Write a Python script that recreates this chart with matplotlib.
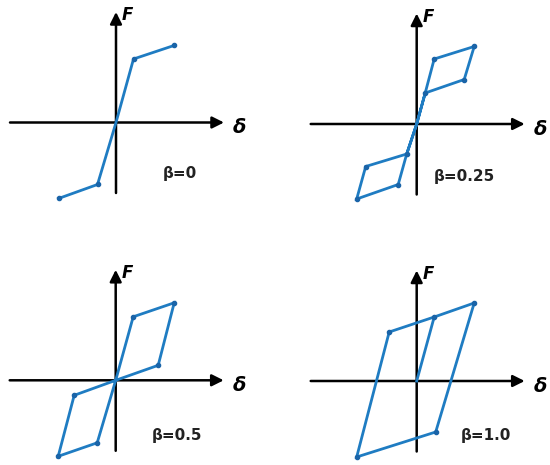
import matplotlib.pyplot as plt
import numpy as np

# loop vertices for each beta (displacement, force), origin at axes crossing
labels = ["β=0", "β=0.25", "β=0.5", "β=1.0"]
d0 = [-57.5, -18.5, 0, 17.5, 58]
f0 = [-76, -62, 0, 63.5, 77]
d25 = [0, 8.5, 17.5, 57.5, 47.5, 8.5, 0, -10, -18.5, -60, -51, -10, 0]
f25 = [0, 31, 65, 77.5, 44.5, 31, 0, -30, -60.5, -75, -42.5, -30, 0]
d50 = [0, 17.5, 58.5, 42.5, 0, -41.5, -57.5, -18.5, 0]
f50 = [0, 63.5, 77.5, 15, 0, -15, -76, -62.5, 0]
d100 = [0, 17.5, 57.5, 19, -60, -27.5, 17.5]
f100 = [0, 64, 78, -51, -76, 49, 64]
data = [(d0, f0), (d25, f25), (d50, f50), (d100, f100)]
markers = [
    [0, 1, 3, 4],
    [1, 2, 3, 4, 7, 8, 9, 10],
    [1, 2, 3, 5, 6, 7],
    [1, 2, 3, 4, 5],
]
label_pos = [(47, -51), (17, -52), (36, -55), (44, -54)]

W, H = 550, 465
# pixel position of each panel's origin
origins = [(116, 122.5), (416.7, 124), (115.7, 380.3), (416.7, 381)]
blue = "#1f7cc2"

fig = plt.figure(figsize=(5.5, 4.65), dpi=100)
for i in range(4):
    ox, oy = origins[i]
    ax = fig.add_axes([0, 0, 1, 1])
    ax.set_xlim(-ox, W - ox)
    ax.set_ylim(-(H - oy), oy)
    ax.axis("off")
    ax.patch.set_alpha(0)

    # axes arrows
    ax.annotate("", xy=(108, 0), xytext=(-106, 0),
                arrowprops=dict(arrowstyle="-|>,head_length=0.7,head_width=0.35",
                                color="black", lw=1.8, shrinkA=0, shrinkB=0))
    ax.annotate("", xy=(0, 110.5), xytext=(0, -70.5),
                arrowprops=dict(arrowstyle="-|>,head_length=0.7,head_width=0.35",
                                color="black", lw=1.8, shrinkA=0, shrinkB=0))
    ax.text(6, 107, "F", fontsize=12, fontstyle="italic", fontweight="bold",
            family="DejaVu Sans", va="center", ha="left")
    ax.text(117, -5, "δ", fontsize=14, fontstyle="italic", fontweight="bold",
            family="DejaVu Sans", va="center", ha="left")

    d, f = data[i]
    ax.plot(d, f, color=blue, lw=2.0, solid_joinstyle="miter", zorder=3)
    m = markers[i]
    ax.plot(np.array(d)[m], np.array(f)[m], "o", color="#1a64a8", ms=3, zorder=4)

    lx, ly = label_pos[i]
    ax.text(lx, ly, labels[i], fontsize=11, fontweight="bold", family="DejaVu Sans",
            color="#222222", va="center", ha="left")

fig.savefig("out.png", dpi=100)
